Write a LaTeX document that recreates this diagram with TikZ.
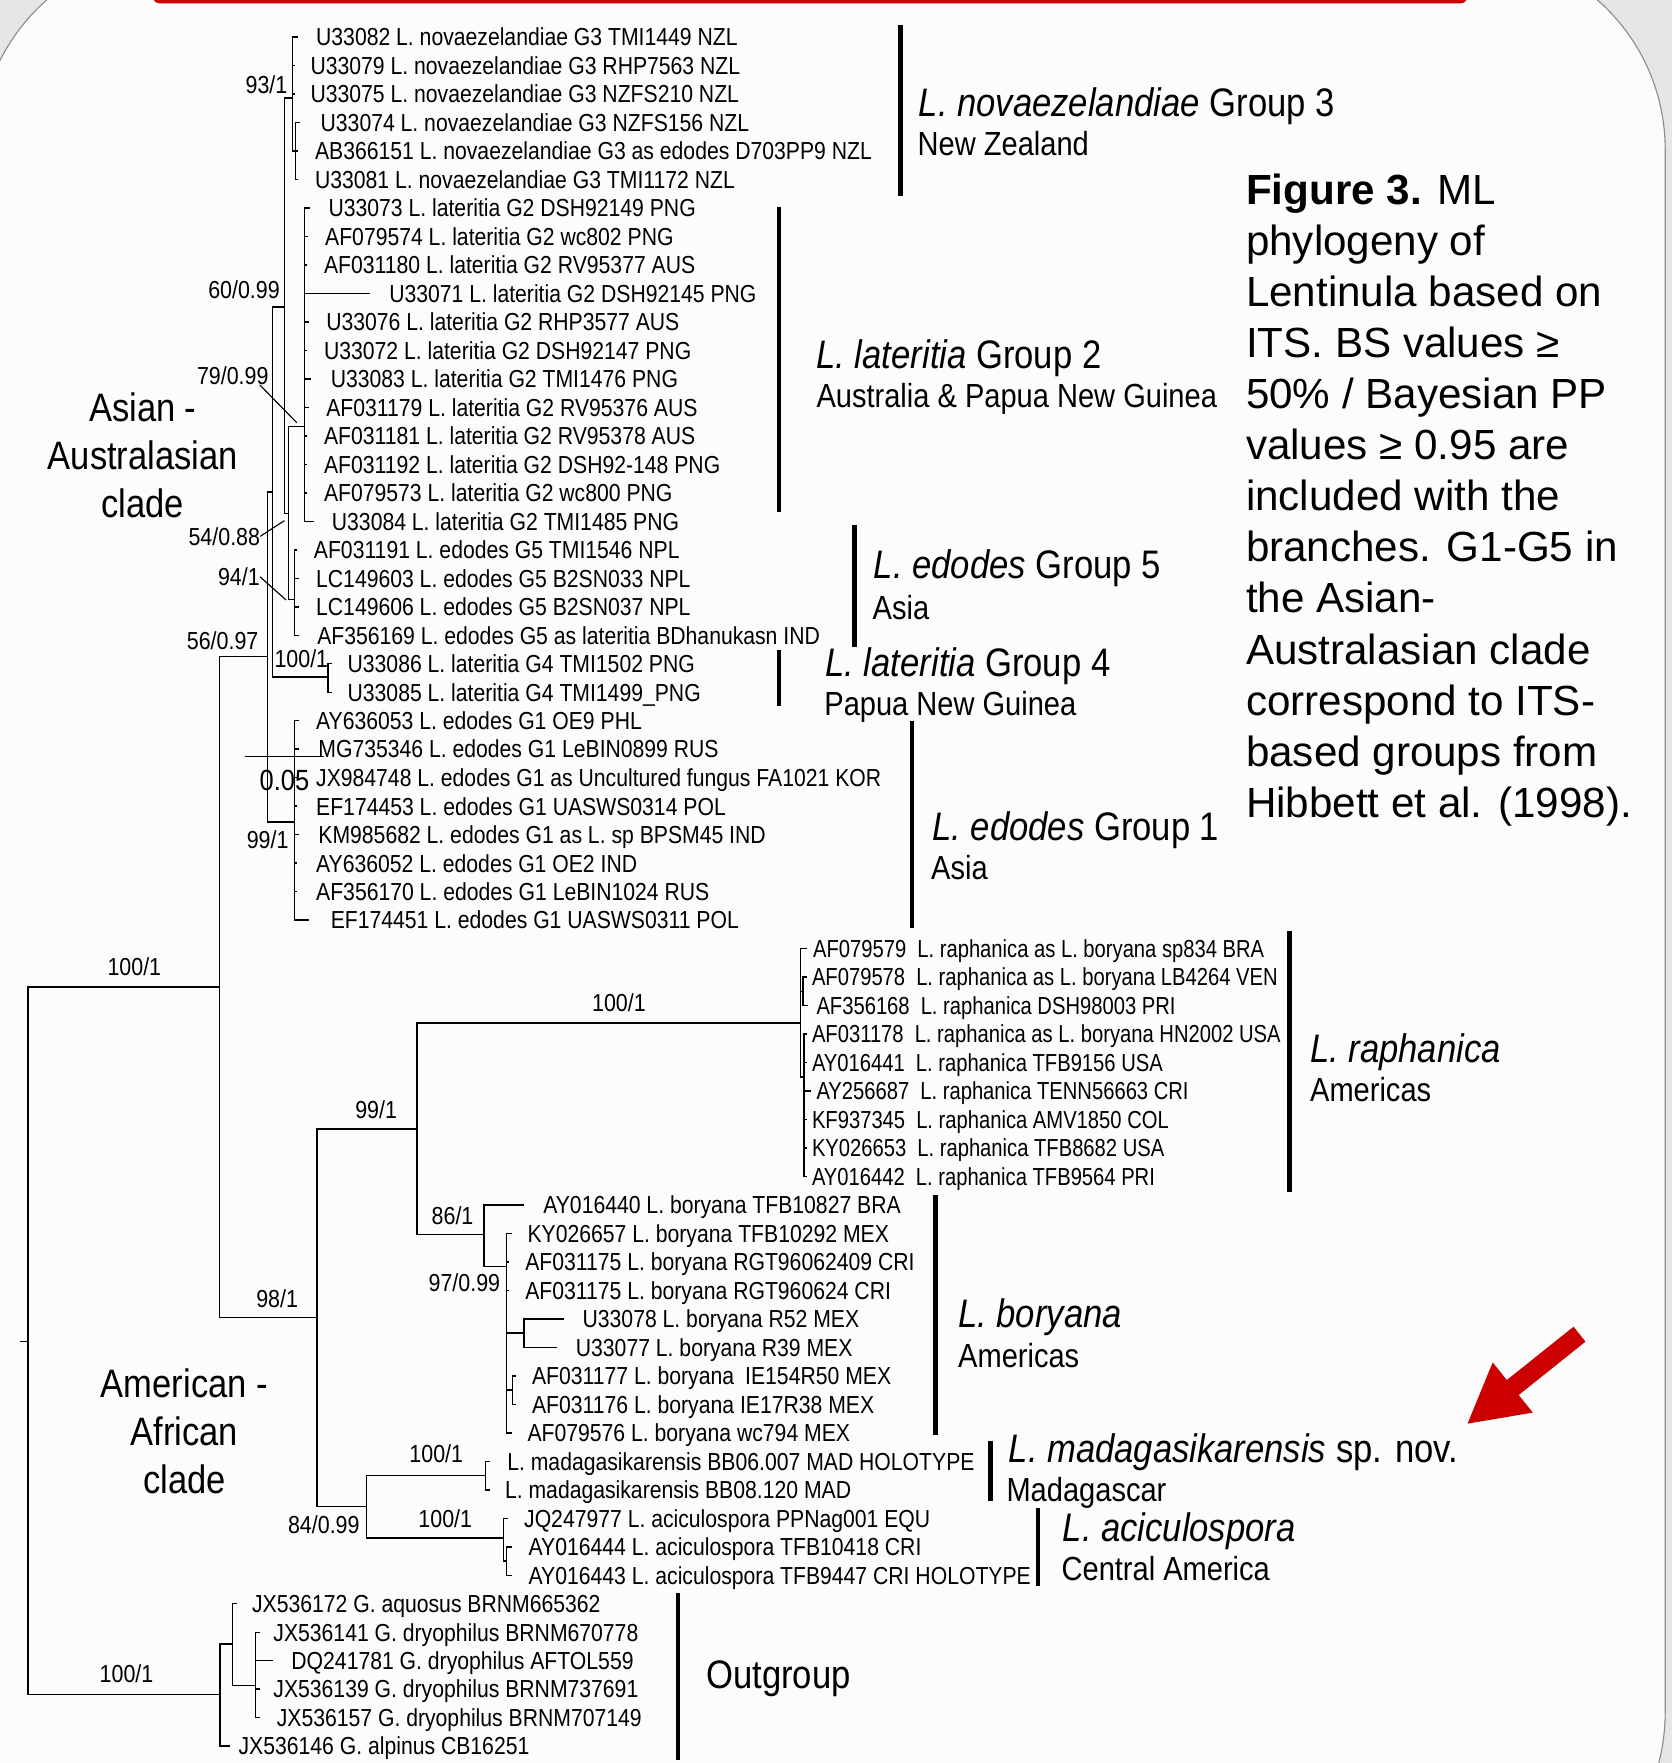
\documentclass[tikz,border=0pt]{standalone}
\usepackage{fontspec}
\setmainfont{Liberation Sans}
\newfontfamily\treefont[FakeStretch=0.87]{Liberation Sans}
\newfontfamily\leaffont[FakeStretch=0.86]{Liberation Sans}
\newfontfamily\raphfont[FakeStretch=0.82]{Liberation Sans}
\usetikzlibrary{arrows.meta}
\definecolor{slidegrey}{HTML}{E6E6E6}
\definecolor{panelwhite}{HTML}{FCFCFC}
\definecolor{panelline}{HTML}{8C8C8C}
\definecolor{slidered}{HTML}{CC0000}
\tikzset{branch/.style={line width=1.3pt},
 pointer/.style={line width=1pt},
 cladebar/.style={line width=4pt},
 leaf/.style={anchor=west,inner sep=0pt,text height=15.7pt,text depth=0pt,
   font=\leaffont\fontsize{21.9}{24}\selectfont},
 support/.style={inner sep=0pt,font=\treefont\fontsize{21.9}{24}\selectfont},
 cladename/.style={anchor=west,inner sep=0pt,text height=25.3pt,text depth=0pt,
   font=\treefont\fontsize{35.4}{40}\selectfont},
 cladeplace/.style={anchor=west,inner sep=0pt,text height=21.3pt,text depth=0pt,
   font=\treefont\fontsize{29.7}{34}\selectfont},
 bigclade/.style={align=center,inner sep=0pt,font=\treefont\fontsize{35.3}{43}\selectfont},
}
% tip coordinate + label of one sequence
\newcommand{\leaf}[5]{\coordinate (#1) at (#2,#3); \node[leaf] (#1-lab) at (#4,#3) {#5};}
\newcommand{\accgap}{\hspace{0.45em}}

\begin{document}
\begin{tikzpicture}[x=1pt,y=-1pt]
\useasboundingbox (0,0) rectangle (1487,1568);
\clip (0,0) rectangle (1487,1568);
% slide background
\fill[slidegrey] (0,0) rectangle (1487,1568);
\filldraw[fill=panelwhite,draw=panelline,line width=1pt,rounded corners=177pt] (-18.7,-44) rectangle (1481,1700);
\fill[slidered,rounded corners=6pt] (136,-20) rectangle (1305,3);

% inner nodes of the tree
\coordinate (rootstub) at (18,1193);
\coordinate (root) at (25,1193);
\coordinate (ingrp) at (195,878);
\coordinate (outgrp) at (195.5,1507);
\coordinate (asia) at (238,584);
\coordinate (amer) at (282,1172);
\coordinate (nB) at (242.5,437.5);
\coordinate (nC) at (253,273);
\coordinate (g3) at (260,87);
\coordinate (g3b) at (263,134.3);
\coordinate (nD) at (256.4,456.5);
\coordinate (g2) at (271,379.5);
\coordinate (g5) at (262,533);
\coordinate (g4) at (291.7,602);
\coordinate (g1) at (262,731);
\coordinate (a99) at (371,1004);
\coordinate (raph) at (712,910);
\coordinate (raphA) at (714,881.7);
\coordinate (raphB) at (715,958);
\coordinate (bory) at (430.6,1098);
\coordinate (b97) at (450.6,1126.5);
\coordinate (b78) at (466,1185.7);
\coordinate (b77) at (456,1236.3);
\coordinate (a84) at (326,1340);
\coordinate (madag) at (432,1312.3);
\coordinate (acic) at (447.6,1368);
\coordinate (acicb) at (450.5,1388.3);
\coordinate (og1) at (206.8,1462);
\coordinate (og2) at (227.2,1499);

% sequences
\leaf{u33082}{265}{33.0}{281}{U33082 L. novaezelandiae G3 TMI1449 NZL}
\leaf{u33079}{262}{58.3}{276}{U33079 L. novaezelandiae G3 RHP7563 NZL}
\leaf{u33075}{262}{83.7}{276}{U33075 L. novaezelandiae G3 NZFS210 NZL}
\leaf{u33074}{267}{109.0}{285}{U33074 L. novaezelandiae G3 NZFS156 NZL}
\leaf{ab366151}{265}{134.3}{280}{AB366151 L. novaezelandiae G3 as edodes D703PP9 NZL}
\leaf{u33081}{265}{159.7}{280}{U33081 L. novaezelandiae G3 TMI1172 NZL}
\leaf{u33073}{276}{185.0}{292}{U33073 L. lateritia G2 DSH92149 PNG}
\leaf{af079574}{274}{210.3}{289}{AF079574 L. lateritia G2 wc802 PNG}
\leaf{af031180}{273}{235.7}{288}{AF031180 L. lateritia G2 RV95377 AUS}
\leaf{u33071}{329}{261.0}{346}{U33071 L. lateritia G2 DSH92145 PNG}
\leaf{u33076}{275}{286.3}{290}{U33076 L. lateritia G2 RHP3577 AUS}
\leaf{u33072}{273}{311.7}{288}{U33072 L. lateritia G2 DSH92147 PNG}
\leaf{u33083}{277}{337.0}{294}{U33083 L. lateritia G2 TMI1476 PNG}
\leaf{af031179}{275}{362.3}{290}{AF031179 L. lateritia G2 RV95376 AUS}
\leaf{af031181}{273}{387.7}{288}{AF031181 L. lateritia G2 RV95378 AUS}
\leaf{af031192}{273}{413.0}{288}{AF031192 L. lateritia G2 DSH92-148 PNG}
\leaf{af079573}{273}{438.3}{288}{AF079573 L. lateritia G2 wc800 PNG}
\leaf{u33084}{279}{463.7}{295}{U33084 L. lateritia G2 TMI1485 PNG}
\leaf{af031191}{264}{489.0}{279}{AF031191 L. edodes G5 TMI1546 NPL}
\leaf{lc149603}{266}{514.3}{281}{LC149603 L. edodes G5 B2SN033 NPL}
\leaf{lc149606}{266}{539.7}{281}{LC149606 L. edodes G5 B2SN037 NPL}
\leaf{af356169}{266}{565.0}{282}{AF356169 L. edodes G5 as lateritia BDhanukasn IND}
\leaf{u33086}{295}{590.3}{309}{U33086 L. lateritia G4 TMI1502 PNG}
\leaf{u33085}{295}{615.7}{309}{U33085 L. lateritia G4 TMI1499\_PNG}
\leaf{ay636053}{266}{641.0}{281}{AY636053 L. edodes G1 OE9 PHL}
\leaf{mg735346}{266}{666.3}{283}{MG735346 L. edodes G1 LeBIN0899 RUS}
\leaf{jx984748}{264}{691.7}{281}{JX984748 L. edodes G1 as Uncultured fungus FA1021 KOR}
\leaf{ef174453}{264}{717.0}{281}{EF174453 L. edodes G1 UASWS0314 POL}
\leaf{km985682}{266}{742.3}{283}{KM985682 L. edodes G1 as L. sp BPSM45 IND}
\leaf{ay636052}{264}{767.7}{281}{AY636052 L. edodes G1 OE2 IND}
\leaf{af356170}{264}{793.0}{281}{AF356170 L. edodes G1 LeBIN1024 RUS}
\leaf{ef174451}{275}{818.3}{294}{EF174451 L. edodes G1 UASWS0311 POL}
\leaf{af079579}{718}{843.7}{723}{\raphfont AF079579\accgap L. raphanica as L. boryana sp834 BRA}
\leaf{af079578}{718}{869.0}{722}{\raphfont AF079578\accgap L. raphanica as L. boryana LB4264 VEN}
\leaf{af356168}{719}{894.3}{726}{\raphfont AF356168\accgap L. raphanica DSH98003 PRI}
\leaf{af031178}{718}{919.7}{722}{\raphfont AF031178\accgap L. raphanica as L. boryana HN2002 USA}
\leaf{ay016441}{718}{945.0}{722}{\raphfont AY016441\accgap L. raphanica TFB9156 USA}
\leaf{ay256687}{721}{970.3}{726}{\raphfont AY256687\accgap L. raphanica TENN56663 CRI}
\leaf{kf937345}{718}{995.7}{722}{\raphfont KF937345\accgap L. raphanica AMV1850 COL}
\leaf{ky026653}{718}{1021.0}{722}{\raphfont KY026653\accgap L. raphanica TFB8682 USA}
\leaf{ay016442}{718}{1046.3}{722}{\raphfont AY016442\accgap L. raphanica TFB9564 PRI}
\leaf{ay016440}{466}{1071.7}{483}{AY016440 L. boryana TFB10827 BRA}
\leaf{ky026657}{455}{1097.0}{469}{KY026657 L. boryana TFB10292 MEX}
\leaf{af031175a}{453}{1122.3}{467}{AF031175 L. boryana RGT96062409 CRI}
\leaf{af031175b}{453}{1147.7}{467}{AF031175 L. boryana RGT960624 CRI}
\leaf{u33078}{501.6}{1173.0}{518}{U33078 L. boryana R52 MEX}
\leaf{u33077}{495.7}{1198.3}{512}{U33077 L. boryana R39 MEX}
\leaf{af031177}{459}{1223.7}{473}{AF031177 L. boryana\accgap IE154R50 MEX}
\leaf{af031176}{459}{1249.0}{473}{AF031176 L. boryana IE17R38 MEX}
\leaf{af079576}{455}{1274.3}{469}{AF079576 L. boryana wc794 MEX}
\leaf{madbb06}{436}{1299.7}{451}{L. madagasikarensis BB06.007 MAD HOLOTYPE}
\leaf{madbb08}{436}{1325.0}{449}{L. madagasikarensis BB08.120 MAD}
\leaf{jq247977}{452}{1350.3}{466}{JQ247977 L. aciculospora PPNag001 EQU}
\leaf{ay016444}{455}{1375.7}{470}{AY016444 L. aciculospora TFB10418 CRI}
\leaf{ay016443}{455}{1401.0}{470}{AY016443 L. aciculospora TFB9447 CRI HOLOTYPE}
\leaf{jx536172}{211}{1426.3}{224}{JX536172 G. aquosus BRNM665362}
\leaf{jx536141}{231}{1451.7}{243}{JX536141 G. dryophilus BRNM670778}
\leaf{dq241781}{242.5}{1477.0}{259}{DQ241781 G. dryophilus AFTOL559}
\leaf{jx536139}{231}{1502.3}{243}{JX536139 G. dryophilus BRNM737691}
\leaf{jx536157}{231}{1527.7}{246}{JX536157 G. dryophilus BRNM707149}
\leaf{jx536146}{205}{1553.0}{212}{JX536146 G. alpinus CB16251}

% backbone
\draw[branch] (rootstub) -- (root);
\draw[branch] (root) |- (ingrp) (root) |- (outgrp);
\draw[branch] (ingrp) |- (asia) (ingrp) |- (amer);
\draw[branch] (asia) |- (nB) (asia) |- (g1);
\draw[branch] (nB) |- (nC) (nB) |- (g4);
\draw[branch] (nC) |- (g3) (nC) |- (nD);
\draw[branch] (nD) |- (g2) (nD) |- (g5);
\draw[branch] (amer) |- (a99) (amer) |- (a84);
\draw[branch] (a99) |- (raph) (a99) |- (bory);
\draw[branch] (a84) |- (madag) (a84) |- (acic);
\draw[branch] (outgrp) |- (og1) (outgrp) |- (jx536146);

% clades
\draw[branch] (g3) |- (u33082) (g3) |- (u33079) (g3) |- (u33075) (g3) |- (g3b);
\draw[branch] (g3b) |- (u33074) (g3b) |- (ab366151) (g3b) |- (u33081);
\draw[branch] (g2) |- (u33073) (g2) |- (af079574) (g2) |- (af031180) (g2) |- (u33071)
  (g2) |- (u33076) (g2) |- (u33072) (g2) |- (u33083) (g2) |- (af031179)
  (g2) |- (af031181) (g2) |- (af031192) (g2) |- (af079573) (g2) |- (u33084);
\draw[branch] (g5) |- (af031191) (g5) |- (lc149603) (g5) |- (lc149606) (g5) |- (af356169);
\draw[branch] (g4) |- (u33086) (g4) |- (u33085);
\draw[branch] (g1) |- (ay636053) (g1) |- (mg735346) (g1) |- (jx984748) (g1) |- (ef174453)
  (g1) |- (km985682) (g1) |- (ay636052) (g1) |- (af356170) (g1) |- (ef174451);
\draw[branch] (raph) |- (af079579) (raph) |- (raphA) (raph) |- (raphB);
\draw[branch] (raphA) |- (af079578) (raphA) |- (af356168);
\draw[branch] (raphB) |- (af031178) (raphB) |- (ay016441) (raphB) |- (ay256687)
  (raphB) |- (kf937345) (raphB) |- (ky026653) (raphB) |- (ay016442);
\draw[branch] (bory) |- (ay016440) (bory) |- (b97);
\draw[branch] (b97) |- (ky026657) (b97) |- (af031175a) (b97) |- (af031175b)
  (b97) |- (b78) (b97) |- (b77) (b97) |- (af079576);
\draw[branch] (b78) |- (u33078) (b78) |- (u33077);
\draw[branch] (b77) |- (af031177) (b77) |- (af031176);
\draw[branch] (madag) |- (madbb06) (madag) |- (madbb08);
\draw[branch] (acic) |- (jq247977) (acic) |- (acicb);
\draw[branch] (acicb) |- (ay016444) (acicb) |- (ay016443);
\draw[branch] (og1) |- (jx536172) (og1) |- (og2);
\draw[branch] (og2) |- (jx536141) (og2) |- (dq241781) (og2) |- (jx536139) (og2) |- (jx536157);

% support values
\node[support] (s93) at (237,75) {93/1};
\node[support] (s60) at (217,258) {60/0.99};
\node[support] (s79) at (207,334) {79/0.99};
\node[support] (s54) at (199.5,477) {54/0.88};
\node[support] (s94) at (212.5,513) {94/1};
\node[support] (s56) at (198,570) {56/0.97};
\node[support] (s4) at (268,586) {100/1};
\node[support] (s1) at (238,747) {99/1};
\node[support] (sin) at (119.5,860) {100/1};
\node[support] (sraph) at (550.5,892) {100/1};
\node[support] (s99) at (334.5,987) {99/1};
\node[support] (s86) at (402.5,1081) {86/1};
\node[support] (s97) at (413,1141) {97/0.99};
\node[support] (s98) at (246.5,1155) {98/1};
\node[support] (smad) at (388,1293) {100/1};
\node[support] (s84) at (288,1356) {84/0.99};
\node[support] (sacic) at (396,1351) {100/1};
\node[support] (sout) at (112.5,1489) {100/1};
\coordinate (p79) at (264,376);
\coordinate (p54) at (253,463);
\coordinate (p94) at (254.4,533.6);
\draw[pointer] ([xshift=-8pt]s79.south east) -- (p79);
\draw[pointer] (s54.east) -- (p54);
\draw[pointer] (s94.east) -- (p94);

% scale bar
\coordinate (sb1) at (218,673);
\coordinate (sb2) at (288,673);
\draw[branch] (sb1) -- (sb2);
\node[inner sep=0pt,font=\treefont\fontsize{26}{28}\selectfont] (sblab) at (253,694) {0.05};

% clade bars and names
\draw[cladebar] (801,22) -- (801,174);
\draw[cladebar] (693,184) -- (693,455);
\draw[cladebar] (760,467) -- (760,575);
\draw[cladebar] (693,578) -- (693,628);
\draw[cladebar] (811,641) -- (811,825);
\draw[cladebar] (1147,828) -- (1147,1060);
\draw[cladebar] (832,1063) -- (832,1276);
\draw[cladebar] (881,1282) -- (881,1335);
\draw[cladebar] (923,1341) -- (923,1411);
\draw[cladebar] (603,1417) -- (603,1565);
\node[cladename] (n3) at (817,91) {\textit{L. novaezelandiae} Group 3};
\node[cladeplace] (p3) at (816,128) {New Zealand};
\node[cladename] (n2) at (726,315) {\textit{L. lateritia} Group 2};
\node[cladeplace] (p2) at (726,352) {Australia \& Papua New Guinea};
\node[cladename] (n5) at (777,502) {\textit{L. edodes} Group 5};
\node[cladeplace] (p5) at (776,540) {Asia};
\node[cladename] (n4) at (734,589) {\textit{L. lateritia} Group 4};
\node[cladeplace] (p4) at (733,626) {Papua New Guinea};
\node[cladename] (n1) at (829,735) {\textit{L. edodes} Group 1};
\node[cladeplace] (p1) at (828,772) {Asia};
\node[cladename] (nraph) at (1165,932) {\textit{L. raphanica}};
\node[cladeplace] (praph) at (1165,969) {Americas};
\node[cladename] (nbory) at (852,1168) {\textit{L. boryana}};
\node[cladeplace] (pbory) at (852,1206) {Americas};
\node[cladename] (nmad) at (897,1288) {\textit{L. madagasikarensis} sp. nov.};
\node[cladeplace] (pmad) at (895,1325) {Madagascar};
\node[cladename] (nacic) at (945,1358) {\textit{L. aciculospora}};
\node[cladeplace] (pacic) at (944,1395) {Central America};
\node[cladename] (nout) at (628,1489) {Outgroup};
\node[bigclade] (asiaclade) at (127,405) {Asian -\\Australasian\\clade};
\node[bigclade] (amerclade) at (164,1273) {American -\\African\\clade};

% caption
\node[anchor=north west,inner sep=0pt,align=left,font=\fontsize{37.5}{45.4}\selectfont] (caption) at (1108,154.6)
 {\textbf{Figure 3.} ML\\phylogeny of\\Lentinula based on\\ITS. BS values ≥\\50\% / Bayesian PP\\values ≥ 0.95 are\\included with the\\branches. G1-G5 in\\the Asian-\\Australasian clade\\correspond to ITS-\\based groups from\\Hibbett et al. (1998).};

% red arrow
\coordinate (arrtail) at (1404.8,1186.6);
\coordinate (arrtip) at (1304.4,1266.8);
\draw[slidered,line width=17pt,-{Triangle[width=53pt,length=52.5pt]}] (arrtail) -- (arrtip);
\end{tikzpicture}
\end{document}
